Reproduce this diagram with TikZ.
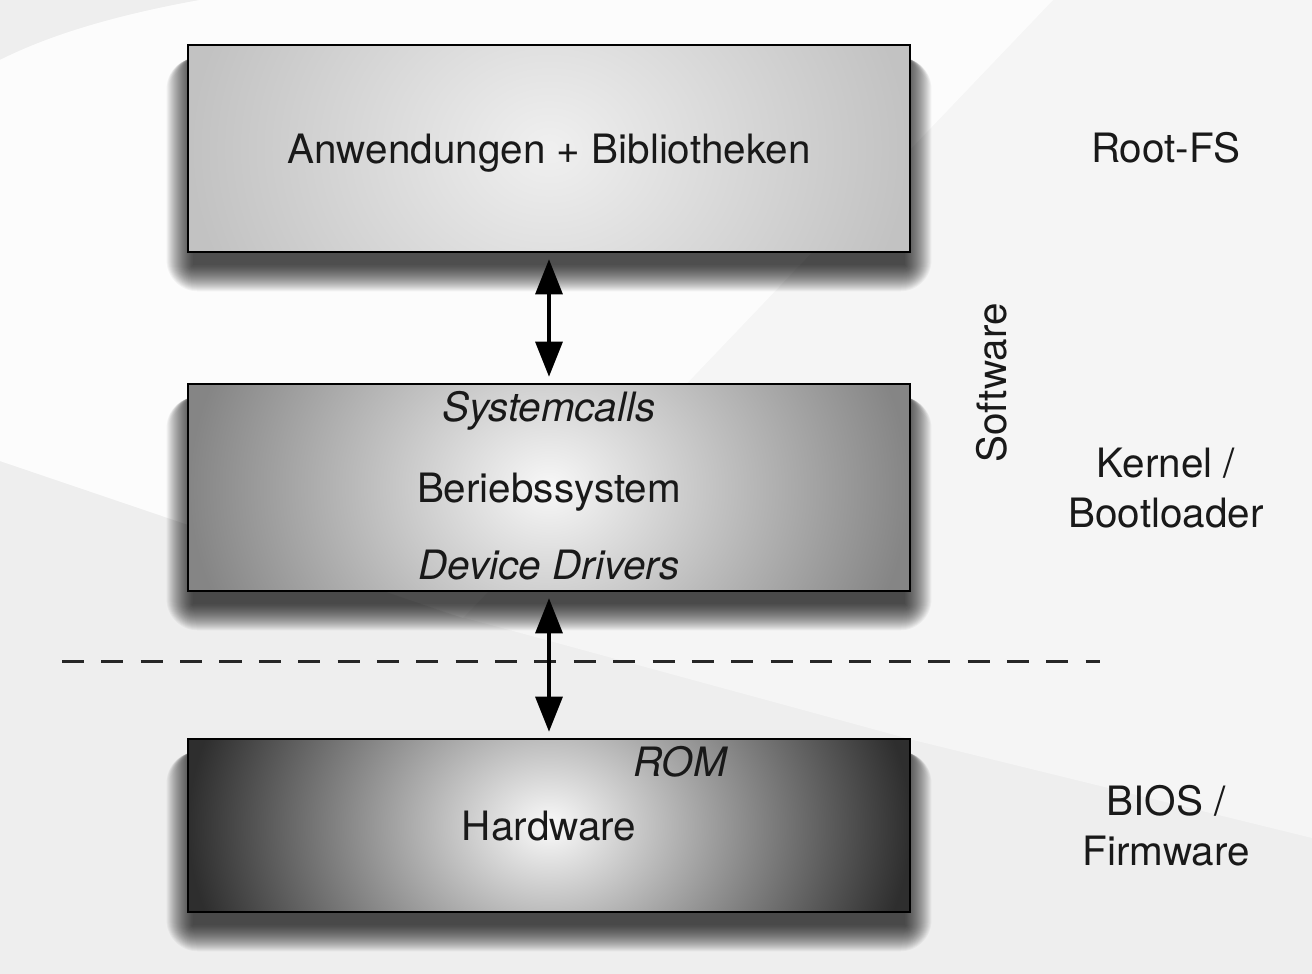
\documentclass[tikz,border=0pt]{standalone}
\usepackage{fontspec}
\setmainfont{TeX Gyre Heros}
\usepackage{tikz}
\usetikzlibrary{arrows.meta}

\definecolor{bgdark}{HTML}{EEEEEE}
\definecolor{bgmid}{HTML}{F5F5F5}
\definecolor{bglight}{HTML}{FCFCFC}

\pgfdeclarelayer{bg}
\pgfdeclarelayer{shade}
\pgfsetlayers{bg,shade,main}

\tikzset{
  layer/.style={draw=black, line width=0.7pt, minimum width=7.22cm, inner sep=0pt, text depth=0pt},
  glow/.style 2 args={path picture={
    \shade[inner color=#1, outer color=#2]
      ([yshift=2cm]path picture bounding box.north west) rectangle
      ([yshift=-2cm]path picture bounding box.south east);}},
  txt/.style={font=\fontsize{11.5pt}{14.3pt}\selectfont, text=black!90},
  soft/.style={fill=black, opacity=0.04},
}

% soft shadow under a named box
\newcommand{\boxshadow}[1]{%
  \foreach \s in {0,1,...,26}
    \fill[soft, rounded corners=\s*0.012cm]
      ([shift={(-\s+6,12+\s)}]#1.south west) rectangle ([shift={(\s-6,14)}]#1.north east);}

\begin{document}
\begin{tikzpicture}[x=0.01cm, y=-0.01cm]
\useasboundingbox (0,0) rectangle (1312,974);

\begin{scope}[every node/.style={layer, txt}]
    \node[minimum height=2.07cm, glow={black!6}{black!24}] (app) at (549,148.5) {Anwendungen + Bibliotheken};
    \node[minimum height=2.07cm, glow={black!3}{black!48}] (os) at (549,487.5) {Beriebssystem};
    \node[minimum height=1.73cm, glow={black!2}{black!82}] (hw) at (549,825.5) {Hardware};
\end{scope}

% background
\begin{pgfonlayer}{bg}
\fill[bgdark] (0,0) rectangle (1312,974);
\fill[bgmid] (0,60) .. controls (40,40) and (100,18) .. (200,0) -- (1312,0)
    -- (1312,838) -- (913,740) -- (447,613) -- (0,461) -- cycle;
\fill[bglight] (0,60) .. controls (40,40) and (100,18) .. (200,0) -- (1053,0)
    -- (463,618) -- (0,461) -- cycle;
\end{pgfonlayer}

\begin{pgfonlayer}{shade}
\boxshadow{app}
\boxshadow{os}
\boxshadow{hw}
\end{pgfonlayer}

\begin{scope}[every node/.style={txt, inner sep=0pt, anchor=base}]
    \node[font=\fontsize{11.5pt}{14.3pt}\selectfont\itshape] (sys) at (549,422) {Systemcalls};
    \node[font=\fontsize{11.5pt}{14.3pt}\selectfont\itshape] (drv) at (549,580) {Device Drivers};
    \node[font=\fontsize{11.5pt}{14.3pt}\selectfont\itshape] (rom) at (680,777) {ROM};
\end{scope}

\begin{scope}[every node/.style={txt, align=center}]
    \node (rootfs) at (1166,148) {Root-FS};
    \node (kernel) at (1166,488) {Kernel /\\Bootloader};
    \node (bios) at (1166,826) {BIOS /\\Firmware};
    \node[rotate=90] (sw) at (992,383) {Software};
\end{scope}

\coordinate (dl) at (62,662);
\coordinate (dr) at (1100,662);
\draw[black!85, line width=0.85pt, dash pattern=on 0.22cm off 0.1735cm] (dl) -- (dr);

\begin{scope}[>={Triangle[length=0.35cm,width=0.27cm]},
              every edge/.style={draw=black, line width=0.9pt,
                                 shorten <=0.06cm, shorten >=0.06cm}]
    \path [<->] (app) edge (os);
    \path [<->] (os) edge (hw);
\end{scope}
\end{tikzpicture}
\end{document}
